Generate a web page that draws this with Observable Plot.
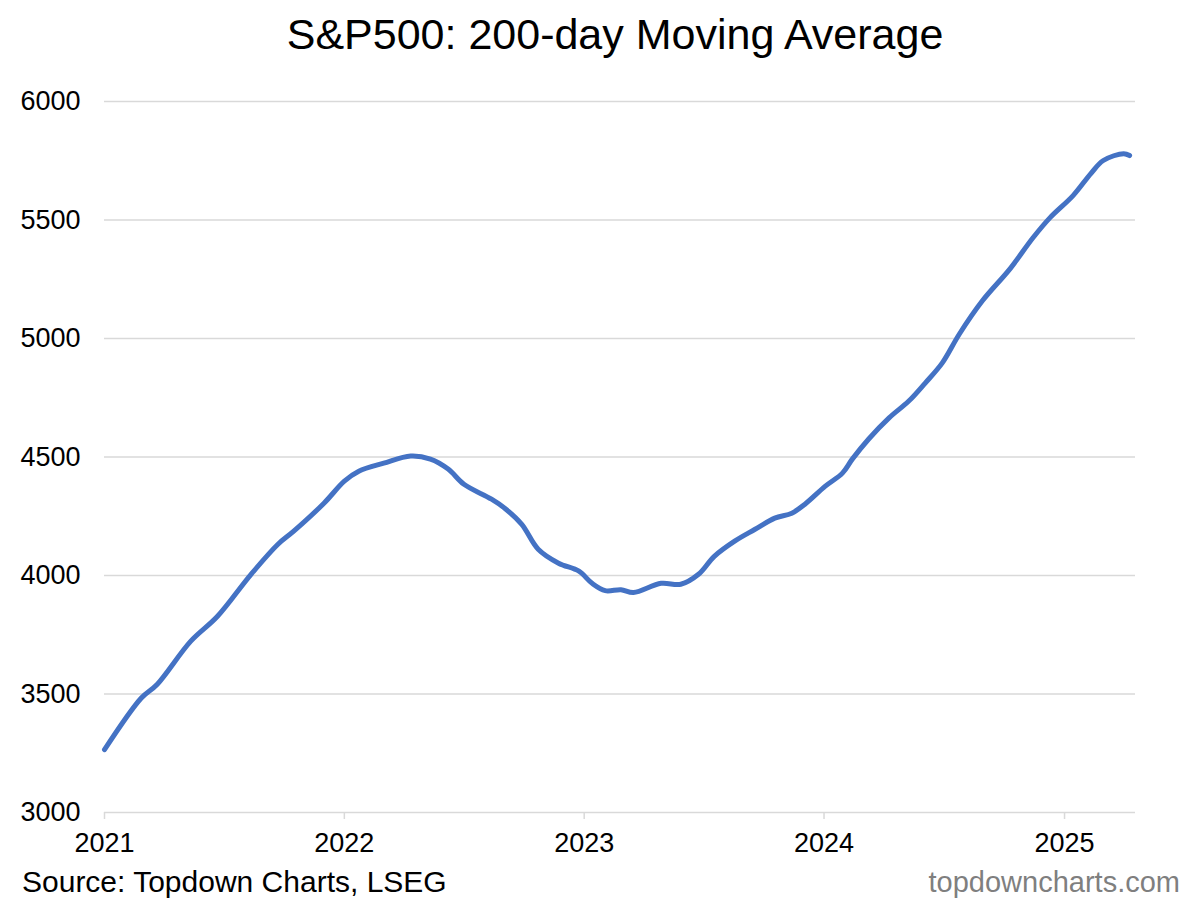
<!DOCTYPE html>
<html>
<head>
<meta charset="utf-8">
<script src="https://cdn.jsdelivr.net/npm/d3@7"></script>
<script src="https://cdn.jsdelivr.net/npm/@observablehq/plot@0.6"></script>
<style>
  html, body { margin: 0; padding: 0; background: #fff; width: 1200px; height: 900px; overflow: hidden; }
  body { font-family: "Liberation Sans", Arial, sans-serif; color: #000; }
  #title { height: 68px; line-height: 68px; font-size: 43px; text-align: center; padding-left: 30px; }
  #chart svg { display: block; }
  #footer { display: flex; justify-content: space-between; align-items: baseline; padding: 0 20px 0 22px; font-size: 30px; line-height: 40px; height: 38px; }
  #footer .site { color: #7f7f7f; font-size: 29px; }
</style>
</head>
<body>
<div id="title">S&amp;P500: 200-day Moving Average</div>
<div id="chart"></div>
<div id="footer"><span>Source: Topdown Charts, LSEG</span><span class="site">topdowncharts.com</span></div>
<script>
const dates = [
  "2021-01-01","2021-02-26","2021-03-22","2021-05-12","2021-06-22","2021-08-12","2021-09-22","2021-10-16",
  "2021-12-01","2022-01-01","2022-01-23","2022-03-02","2022-04-12","2022-05-12","2022-06-08","2022-07-02",
  "2022-08-13","2022-09-02","2022-09-28","2022-10-23","2022-11-23","2022-12-24","2023-01-13","2023-02-02",
  "2023-02-26","2023-03-17","2023-04-28","2023-05-28","2023-06-24","2023-07-18","2023-08-18","2023-09-18",
  "2023-10-18","2023-11-13","2023-12-03","2024-01-03","2024-01-29","2024-02-13","2024-03-09","2024-04-09",
  "2024-05-09","2024-06-03","2024-06-29","2024-07-25","2024-08-29","2024-10-10","2024-11-14","2024-12-10",
  "2025-01-14","2025-02-10","2025-03-01","2025-04-01","2025-04-10"
];
const values = [
  3265, 3483, 3540, 3722, 3828, 4005, 4132, 4187,
  4305, 4398, 4440, 4474, 4504, 4491, 4449, 4385,
  4322, 4284, 4216, 4111, 4052, 4018, 3967, 3936,
  3940, 3928, 3967, 3963, 4005, 4081, 4145, 4195,
  4242, 4263, 4301, 4377, 4432, 4491, 4576, 4665,
  4736, 4812, 4897, 5019, 5159, 5294, 5425, 5510,
  5603, 5696, 5751, 5780, 5772
];
const yTicks = [3000, 3500, 4000, 4500, 5000, 5500, 6000];
const xTickLabels = ["2021", "2022", "2023", "2024", "2025"];

const data = dates.map((d, i) => ({date: new Date(d + "T00:00:00Z"), value: values[i]}));
const xTicks = xTickLabels.map(y => new Date(y + "-01-01T00:00:00Z"));

const chart = Plot.plot({
  width: 1200,
  height: 794,
  marginTop: 33,
  marginLeft: 104,
  marginRight: 65,
  marginBottom: 50,
  style: {fontFamily: "'Liberation Sans', Arial, sans-serif", fontSize: "27px", color: "#000", background: "#fff", overflow: "visible"},
  x: {type: "utc", domain: [new Date("2021-01-01T00:00:00Z"), new Date("2025-04-19T00:00:00Z")]},
  y: {domain: [3000, 6000]},
  marks: [
    Plot.gridY(yTicks, {stroke: "#d9d9d9", strokeOpacity: 1, strokeWidth: 1.5}),
    Plot.axisY(yTicks, {tickSize: 0, tickPadding: 24, fontSize: 27, label: null, tickFormat: d3.format("d")}),
    Plot.axisX(xTicks, {tickSize: 7, tickPadding: 13, stroke: "#d9d9d9", strokeOpacity: 1, strokeWidth: 1.5, fontSize: 27, tickFormat: d3.utcFormat("%Y"), label: null}),
    Plot.line(data, {x: "date", y: "value", stroke: "#4472c4", strokeWidth: 5, curve: "catmull-rom", strokeLinecap: "round", strokeLinejoin: "round"})
  ]
});
document.getElementById("chart").appendChild(chart);
</script>
</body>
</html>
